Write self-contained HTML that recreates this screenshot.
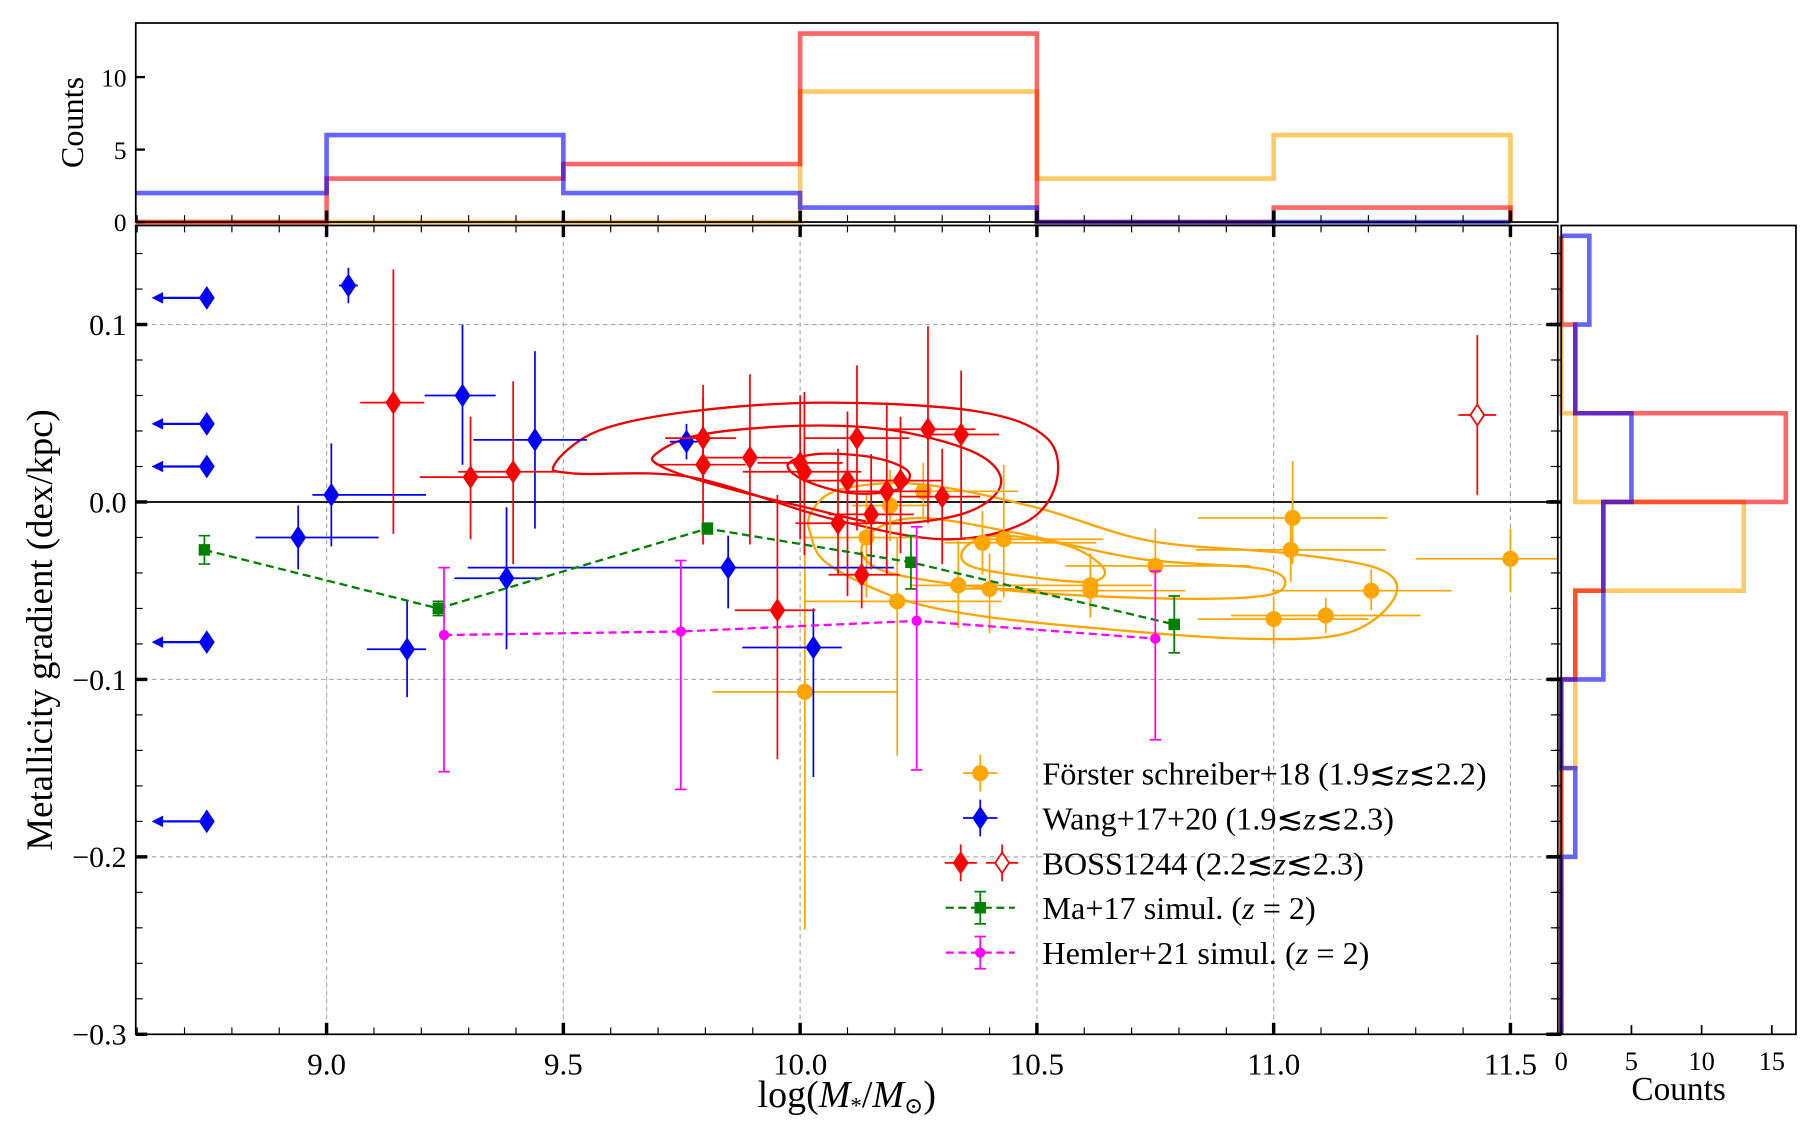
<!DOCTYPE html>
<html><head><meta charset="utf-8"><style>
html,body{margin:0;padding:0;background:#fff;}
svg{display:block;font-family:"Liberation Serif","DejaVu Serif",serif;}
</style></head><body>
<svg id="fig" width="1804" height="1126" viewBox="0 0 1568 978.7" preserveAspectRatio="none" xmlns="http://www.w3.org/2000/svg"></svg>
<script>
// ---------- data ----------
const wangX=[9.046,9.287,9.010,8.940,9.170,9.380,9.440,9.760,9.848,10.028];
const wangY=[0.122,0.060,0.004,-0.020,-0.083,-0.043,0.035,0.034,-0.037,-0.082];
const wangExL=[0.02,0.08,0.04,0.09,0.085,0.11,0.13,0.035,0.55,0.15];
const wangExH=[0.02,0.07,0.20,0.17,0.04,0.07,0.11,0.03,0.35,0.06];
const wangEyL=[0.01,0.039,0.029,0.018,0.027,0.04,0.05,0.01,0.023,0.073];
const wangEyH=[0.01,0.040,0.029,0.018,0.027,0.04,0.05,0.01,0.018,0.022];
const limX=[8.747,8.747,8.747,8.747,8.747];
const limY=[0.115,0.044,0.020,-0.079,-0.180];

const bossX=[9.141,9.304,9.394,9.795,9.795,9.894,10.0,10.009,10.10,10.12,10.27,10.34,10.212,10.183,10.30,10.15,10.08,10.13,9.952];
const bossY=[0.056,0.014,0.017,0.036,0.021,0.025,0.022,0.017,0.012,0.036,0.041,0.038,0.012,0.006,0.003,-0.007,-0.012,-0.041,-0.061];
const bossExL=[0.07,0.107,0.116,0.08,0.1,0.1,0.09,0.13,0.09,0.11,0.09,0.07,0.1,0.09,0.09,0.09,0.09,0.07,0.09];
const bossExH=[0.065,0.095,0.095,0.07,0.09,0.09,0.09,0.12,0.10,0.11,0.10,0.08,0.09,0.09,0.08,0.09,0.08,0.08,0.08];
const bossEyL=[0.074,0.035,0.052,0.026,0.045,0.049,0.043,0.047,0.065,0.052,0.053,0.059,0.041,0.047,0.038,0.031,0.029,0.019,0.084];
const bossEyH=[0.075,0.034,0.051,0.023,0.045,0.047,0.038,0.045,0.039,0.041,0.058,0.036,0.036,0.05,0.027,0.034,0.042,0.013,0.065];
const bossOpenX=[11.43], bossOpenY=[0.049], bossOpenEx=[0.04], bossOpenEy=[0.045];

const fsX=[10.01,10.205,10.14,10.26,10.19,10.385,10.43,10.334,10.40,10.613,10.613,10.75,11.04,11.036,11.206,11.11,11.0,11.5];
const fsY=[-0.107,-0.056,-0.020,0.006,-0.002,-0.023,-0.021,-0.047,-0.049,-0.047,-0.050,-0.036,-0.009,-0.027,-0.050,-0.064,-0.066,-0.032];
const fsExL=[0.195,0.195,0.13,0.09,0.08,0.08,0.08,0.1,0.08,0.19,0.19,0.19,0.2,0.2,0.21,0.2,0.16,0.2];
const fsExH=[0.195,0.22,0.11,0.2,0.08,0.24,0.21,0.14,0.1,0.13,0.2,0.2,0.2,0.2,0.17,0.2,0.2,0.1];
const fsEyL=[0.134,0.087,0.034,0.016,0.02,0.018,0.033,0.024,0.025,0.018,0.015,0.021,0.026,0.018,0.011,0.01,0.014,0.019];
const fsEyH=[0.085,0.036,0.024,0.016,0.02,0.018,0.042,0.025,0.02,0.018,0.015,0.021,0.032,0.021,0.012,0.01,0.012,0.017];

const maX=[8.742,9.236,9.804,10.234,10.79];
const maY=[-0.027,-0.060,-0.015,-0.034,-0.069];
const maErr=[0.008,0.004,0.003,0.015,0.016];
const hemX=[9.248,9.748,10.246,10.75];
const hemY=[-0.075,-0.073,-0.067,-0.077];
const hemEyH=[0.038,0.040,0.053,0.038];
const hemEyL=[0.077,0.089,0.084,0.057];

const histXEdges=[8.5,9.0,9.5,10.0,10.5,11.0,11.5];
const histXBlue=[2,6,2,1,0,0];
const histXRed=[0,3,4,13,0,1];
const histXOrange=[0,0,0,9,3,6];
const histYEdges=[-0.30,-0.25,-0.20,-0.15,-0.10,-0.05,0.0,0.05,0.10,0.15];
const histYBlue=[0,0,1,0,3,3,5,1,2];
const histYRed=[0,0,0,0,1,3,16,1,0];
const histYOrange=[0,0,0,1,1,13,1,0,0];

const redC1=[[9.481,0.021],[9.573,0.040],[9.768,0.051],[10.059,0.056],[10.375,0.051],[10.521,0.036],[10.540,0.010],[10.472,-0.012],[10.302,-0.021],[10.059,-0.009],[9.768,0.014],[9.525,0.016]];
const redC2=[[9.695,0.027],[9.792,0.038],[10.011,0.043],[10.205,0.040],[10.375,0.027],[10.424,0.010],[10.351,-0.006],[10.181,-0.012],[10.011,-0.003],[9.816,0.010],[9.707,0.020]];
const redC3=[[9.974,0.021],[10.035,0.027],[10.156,0.025],[10.229,0.017],[10.205,0.007],[10.108,0.005],[10.011,0.012]];
const orC1=[[10.023,-0.006],[10.084,0.007],[10.254,0.010],[10.497,-0.003],[10.740,-0.022],[11.031,-0.029],[11.225,-0.038],[11.255,-0.054],[11.153,-0.074],[10.934,-0.077],[10.618,-0.071],[10.375,-0.064],[10.205,-0.054],[10.059,-0.035],[10.023,-0.019]];
const orC2=[[10.156,-0.016],[10.254,-0.009],[10.448,-0.017],[10.715,-0.032],[10.983,-0.038],[11.019,-0.049],[10.934,-0.054],[10.715,-0.054],[10.448,-0.050],[10.205,-0.041],[10.132,-0.030]];
const orC3=[[10.351,-0.025],[10.424,-0.019],[10.569,-0.025],[10.642,-0.038],[10.606,-0.045],[10.448,-0.041],[10.351,-0.035]];

const xTicks=[9.0,9.5,10.0,10.5,11.0,11.5];
const xTickLabels=["9.0","9.5","10.0","10.5","11.0","11.5"];
const yTicks=[-0.3,-0.2,-0.1,0.0,0.1];
const yTickLabels=["\u22120.3","\u22120.2","\u22120.1","0.0","0.1"];

// ---------- layout ----------
const M={l:118,r:1354,t:196,b:899}, XMIN=8.597, XMAX=11.6, YMIN=-0.3, YMAX=0.1558;
const T={t:20,b:193,max:13.73};
const R={l:1357,r:1561,max:16.72};
const sx=v=>M.l+(v-XMIN)/(XMAX-XMIN)*(M.r-M.l);
const sy=v=>M.b-(v-YMIN)/(YMAX-YMIN)*(M.b-M.t);
const ty=c=>T.b-c/T.max*(T.b-T.t);
const rx=c=>R.l+c/R.max*(R.r-R.l);
const svg=document.getElementById('fig');
const NS='http://www.w3.org/2000/svg';
function el(tag,attrs,parent){const e=document.createElementNS(NS,tag);for(const k in attrs)e.setAttribute(k,attrs[k]);(parent||svg).appendChild(e);return e;}
function txt(s,attrs,parent){const e=el('text',attrs,parent);e.textContent=s;return e;}

const defs=el('defs',{});
const cp=el('clipPath',{id:'mainclip'},defs);
el('rect',{x:M.l,y:M.t,width:M.r-M.l,height:M.b-M.t},cp);

// ---------- main axes ----------
const gMain=el('g',{});


xTicks.forEach(v=>{const g=el('line',{x1:sx(v),x2:sx(v),y1:M.t,y2:M.b,stroke:'#aaa','stroke-width':1,'stroke-dasharray':'4,3'},gMain);});
yTicks.forEach(v=>{const g=el('line',{x1:M.l,x2:M.r,y1:sy(v),y2:sy(v),stroke:'#aaa','stroke-width':1,'stroke-dasharray':'4,3'},gMain);});
const zl=el('line',{x1:M.l,x2:M.r,y1:sy(0),y2:sy(0),stroke:'#000','stroke-width':1.5},gMain);



const plot=el('g',{'clip-path':'url(#mainclip)'},gMain);

function closedPath(pts){
  const p=pts.map(q=>[sx(q[0]),sy(q[1])]);const n=p.length;let d=`M${p[0][0]},${p[0][1]}`;
  for(let i=0;i<n;i++){const p0=p[(i-1+n)%n],p1=p[i],p2=p[(i+1)%n],p3=p[(i+2)%n];
    const c1=[p1[0]+(p2[0]-p0[0])/6,p1[1]+(p2[1]-p0[1])/6],c2=[p2[0]-(p3[0]-p1[0])/6,p2[1]-(p3[1]-p1[1])/6];
    d+=` C${c1[0]},${c1[1]} ${c2[0]},${c2[1]} ${p2[0]},${p2[1]}`;}
  return d+'Z';
}
[[orC1,'#ffa500'],[orC2,'#ffa500'],[orC3,'#ffa500'],[redC1,'#ee0000'],[redC2,'#ee0000'],[redC3,'#ee0000']].forEach(([c,col],i)=>{
  const p=el('path',{d:closedPath(c),fill:'none',stroke:col,'stroke-width':2},plot);
  
  
});

function errbar(g,x,y,exl,exh,eyl,eyh,col,cap,lw){
  if(exl||exh)el('line',{x1:sx(x-exl),x2:sx(x+exh),y1:sy(y),y2:sy(y),stroke:col,'stroke-width':lw},g);
  el('line',{x1:sx(x),x2:sx(x),y1:sy(y-eyl),y2:sy(y+eyh),stroke:col,'stroke-width':lw},g);
  if(cap){[y-eyl,y+eyh].forEach(v=>el('line',{x1:sx(x)-cap,x2:sx(x)+cap,y1:sy(v),y2:sy(v),stroke:col,'stroke-width':lw},g));}
}
function diamond(g,cx,cy,col,fill){return el('path',{d:`M${cx},${cy-9}L${cx+6},${cy}L${cx},${cy+9}L${cx-6},${cy}Z`,fill:fill,stroke:col,'stroke-width':1.5},g);}

fsX.forEach((x,i)=>{const g=el('g',{},plot);
  
  
  errbar(g,x,fsY[i],fsExL[i],fsExH[i],fsEyL[i],fsEyH[i],'#ffa500',0,1.5);
  el('circle',{cx:sx(x),cy:sy(fsY[i]),r:7,fill:'#ffa500'},g);});
wangX.forEach((x,i)=>{const g=el('g',{},plot);
  
  
  errbar(g,x,wangY[i],wangExL[i],wangExH[i],wangEyL[i],wangEyH[i],'#0000ff',0,1.5);
  diamond(g,sx(x),sy(wangY[i]),'#0000ff','#0000ff');});
limX.forEach((x,i)=>{const g=el('g',{},plot);
  
  
  const X=sx(x),Y=sy(limY[i]);
  el('line',{x1:X,x2:X-42,y1:Y,y2:Y,stroke:'#0000ff','stroke-width':2},g);
  el('path',{d:`M${X-48},${Y}L${X-38},${Y-5}L${X-38},${Y+5}Z`,fill:'#0000ff'},g);
  diamond(g,X,Y,'#0000ff','#0000ff');});
bossX.forEach((x,i)=>{const g=el('g',{},plot);
  
  
  errbar(g,x,bossY[i],bossExL[i],bossExH[i],bossEyL[i],bossEyH[i],'#ff0000',0,1.5);
  diamond(g,sx(x),sy(bossY[i]),'#ff0000','#ff0000');});
bossOpenX.forEach((x,i)=>{const g=el('g',{},plot);
  
  
  errbar(g,x,bossOpenY[i],bossOpenEx[i],bossOpenEx[i],bossOpenEy[i],bossOpenEy[i],'#ff0000',0,1.5);
  diamond(g,sx(x),sy(bossOpenY[i]),'#ff0000','#fff');});
const maLine=el('polyline',{points:maX.map((x,i)=>sx(x)+','+sy(maY[i])).join(' '),fill:'none',stroke:'#008000','stroke-width':2,'stroke-dasharray':'7,4'},plot);


maX.forEach((x,i)=>{const g=el('g',{},plot);
  
  
  errbar(g,x,maY[i],0,0,maErr[i],maErr[i],'#008000',5,1.5);
  el('rect',{x:sx(x)-5,y:sy(maY[i])-5,width:10,height:10,fill:'#008000'},g);});
const hemLine=el('polyline',{points:hemX.map((x,i)=>sx(x)+','+sy(hemY[i])).join(' '),fill:'none',stroke:'#ff00ff','stroke-width':2,'stroke-dasharray':'7,4'},plot);


hemX.forEach((x,i)=>{const g=el('g',{},plot);
  
  
  errbar(g,x,hemY[i],0,0,hemEyL[i],hemEyH[i],'#ff00ff',5,1.5);
  el('circle',{cx:sx(x),cy:sy(hemY[i]),r:4.5,fill:'#ff00ff'},g);});

const tg=el('g',{});
for(let v=8.6;v<=11.61;v+=0.1){const X=sx(v);const major=xTicks.some(t=>Math.abs(t-v)<1e-6);const L=major?10:6;
  el('line',{x1:X,x2:X,y1:M.b,y2:M.b-L,stroke:'#000','stroke-width':major?3:1},tg);
  el('line',{x1:X,x2:X,y1:M.t,y2:M.t+L,stroke:'#000','stroke-width':major?3:1},tg);}
for(let v=-0.3;v<=0.155;v+=0.02){const Y=sy(v);const major=yTicks.some(t=>Math.abs(t-v)<1e-6);const L=major?10:6;
  el('line',{x1:M.l,x2:M.l+L,y1:Y,y2:Y,stroke:'#000','stroke-width':major?3:1},tg);
  el('line',{x1:M.r,x2:M.r-L,y1:Y,y2:Y,stroke:'#000','stroke-width':major?3:1},tg);}
xTicks.forEach((v,i)=>{const t=txt(xTickLabels[i],{x:sx(v),y:M.b+35,'font-size':27,'text-anchor':'middle'});});
yTicks.forEach((v,i)=>{const t=txt(yTickLabels[i],{x:M.l-8,y:sy(v)+9,'font-size':26,'text-anchor':'end'});});
const mf=el('rect',{x:M.l,y:M.t,width:M.r-M.l,height:M.b-M.t,fill:'none',stroke:'#000','stroke-width':1.5});


const yl=txt('Metallicity gradient (dex/kpc)',{x:0,y:0,'font-size':32,'text-anchor':'middle',transform:`translate(45,${(M.t+M.b)/2}) rotate(-90)`});


const xl=el('text',{x:(M.l+M.r)/2,y:962,'font-size':33,'text-anchor':'middle'});


xl.innerHTML='log(<tspan font-style="italic">M</tspan><tspan font-size="20" dy="6">*</tspan><tspan dy="-6">/</tspan><tspan font-style="italic">M</tspan><tspan font-size="20" dy="6">\u2299</tspan><tspan dy="-6">)</tspan>';

// ---------- top histogram ----------
const gT=el('g',{});


function stepX(counts,col,name){
  let d='';counts.forEach((c,i)=>{const x0=Math.max(sx(histXEdges[i]),M.l),x1=sx(histXEdges[i+1]);d+=(i?'L':'M')+x0+','+ty(c)+'L'+x1+','+ty(c);});
  d+='L'+sx(histXEdges[histXEdges.length-1])+','+ty(0);
  const p=el('path',{d:d,fill:'none',stroke:col,'stroke-width':4,'stroke-opacity':0.6},gT);
  
  
}
stepX(histXOrange,'#ffa500','hist-mass-fs18');
stepX(histXRed,'#ff0000','hist-mass-boss1244');
stepX(histXBlue,'#0000ff','hist-mass-wang');
for(let v=8.6;v<=11.61;v+=0.1){const X=sx(v);const major=xTicks.some(t=>Math.abs(t-v)<1e-6);
  el('line',{x1:X,x2:X,y1:T.b,y2:T.b-(major?10:6),stroke:'#000','stroke-width':major?3:1},gT);}
[0,5,10].forEach(c=>{el('line',{x1:M.l,x2:M.l+8,y1:ty(c),y2:ty(c),stroke:'#000','stroke-width':2},gT);
  const t=txt(String(c),{x:M.l-8,y:ty(c)+8,'font-size':22,'text-anchor':'end'},gT);});
el('rect',{x:M.l,y:T.t,width:M.r-M.l,height:T.b-T.t,fill:'none',stroke:'#000','stroke-width':1.5},gT);
const tc=txt('Counts',{x:0,y:0,'font-size':28,'text-anchor':'middle',transform:`translate(72,${(T.t+T.b)/2}) rotate(-90)`});



// ---------- right histogram ----------
const gR=el('g',{});


function stepY(counts,col,name){
  let d='';counts.forEach((c,i)=>{const y0=sy(histYEdges[i]),y1=Math.max(sy(histYEdges[i+1]),M.t);d+=(i?'L':'M')+rx(c)+','+y0+'L'+rx(c)+','+y1;});
  d+='L'+rx(0)+','+sy(histYEdges[histYEdges.length-1]);
  const p=el('path',{d:d,fill:'none',stroke:col,'stroke-width':4,'stroke-opacity':0.6},gR);
  
  
}
stepY(histYOrange,'#ffa500','hist-gradient-fs18');
stepY(histYRed,'#ff0000','hist-gradient-boss1244');
stepY(histYBlue,'#0000ff','hist-gradient-wang');
[0,5,10,15].forEach(c=>{el('line',{x1:rx(c),x2:rx(c),y1:M.b,y2:M.b-8,stroke:'#000','stroke-width':1.5},gR);
  const t=txt(String(c),{x:rx(c),y:M.b+31,'font-size':23,'text-anchor':'middle'},gR);});
for(let v=-0.3;v<=0.155;v+=0.02){const Y=sy(v);const major=yTicks.some(t=>Math.abs(t-v)<1e-6);
  el('line',{x1:R.l,x2:R.l-(major?10:6),y1:Y,y2:Y,stroke:'#000','stroke-width':major?3:1},gR);}
el('rect',{x:R.l,y:M.t,width:R.r-R.l,height:M.b-M.t,fill:'none',stroke:'#000','stroke-width':1.5},gR);
const rc=txt('Counts',{x:(R.l+R.r)/2,y:956,'font-size':29,'text-anchor':'middle'});



// ---------- legend ----------
const lg=el('g',{});


const LX=852, TX=906, LY=[672,711,750,789,828];
const labels=['Förster schreiber+18 (1.9\u2272<i>z</i>\u22722.2)','Wang+17+20 (1.9\u2272<i>z</i>\u22722.3)','BOSS1244 (2.2\u2272<i>z</i>\u22722.3)','Ma+17 simul. (<i>z</i> = 2)','Hemler+21 simul. (<i>z</i> = 2)'];
const names=['legend-entry-fs18','legend-entry-wang','legend-entry-boss1244','legend-entry-ma17','legend-entry-hemler21'];
labels.forEach((s,i)=>{const g=el('g',{},lg);
  
  
  const y=LY[i];
  if(i==0){el('line',{x1:LX-15,x2:LX+15,y1:y,y2:y,stroke:'#ffa500','stroke-width':1.5},g);el('line',{x1:LX,x2:LX,y1:y-16,y2:y+16,stroke:'#ffa500','stroke-width':1.5},g);el('circle',{cx:LX,cy:y,r:7,fill:'#ffa500'},g);}
  if(i==1){el('line',{x1:LX-15,x2:LX+15,y1:y,y2:y,stroke:'#0000ff','stroke-width':1.5},g);el('line',{x1:LX,x2:LX,y1:y-16,y2:y+16,stroke:'#0000ff','stroke-width':1.5},g);diamond(g,LX,y,'#0000ff','#0000ff');}
  if(i==2){[LX-17,LX+19].forEach((cx,k)=>{el('line',{x1:cx-14,x2:cx+14,y1:y,y2:y,stroke:'#ff0000','stroke-width':1.5},g);el('line',{x1:cx,x2:cx,y1:y-16,y2:y+16,stroke:'#ff0000','stroke-width':1.5},g);diamond(g,cx,y,'#ff0000',k?'#fff':'#ff0000');});}
  if(i>=3){const col=i==3?'#008000':'#ff00ff';
    el('line',{x1:LX-30,x2:LX+30,y1:y,y2:y,stroke:col,'stroke-width':2,'stroke-dasharray':'7,4'},g);
    el('line',{x1:LX,x2:LX,y1:y-14,y2:y+14,stroke:col,'stroke-width':1.5},g);
    [y-14,y+14].forEach(v=>el('line',{x1:LX-5,x2:LX+5,y1:v,y2:v,stroke:col,'stroke-width':1.5},g));
    if(i==3)el('rect',{x:LX-5,y:y-5,width:10,height:10,fill:col},g);else el('circle',{cx:LX,cy:y,r:4.5,fill:col},g);}
  const t=el('text',{x:TX,y:y+10,'font-size':28},g);
  t.innerHTML=s.replace(/<i>z<\/i>/g,'<tspan font-style="italic">z</tspan>');
});
</script>
</body></html>
